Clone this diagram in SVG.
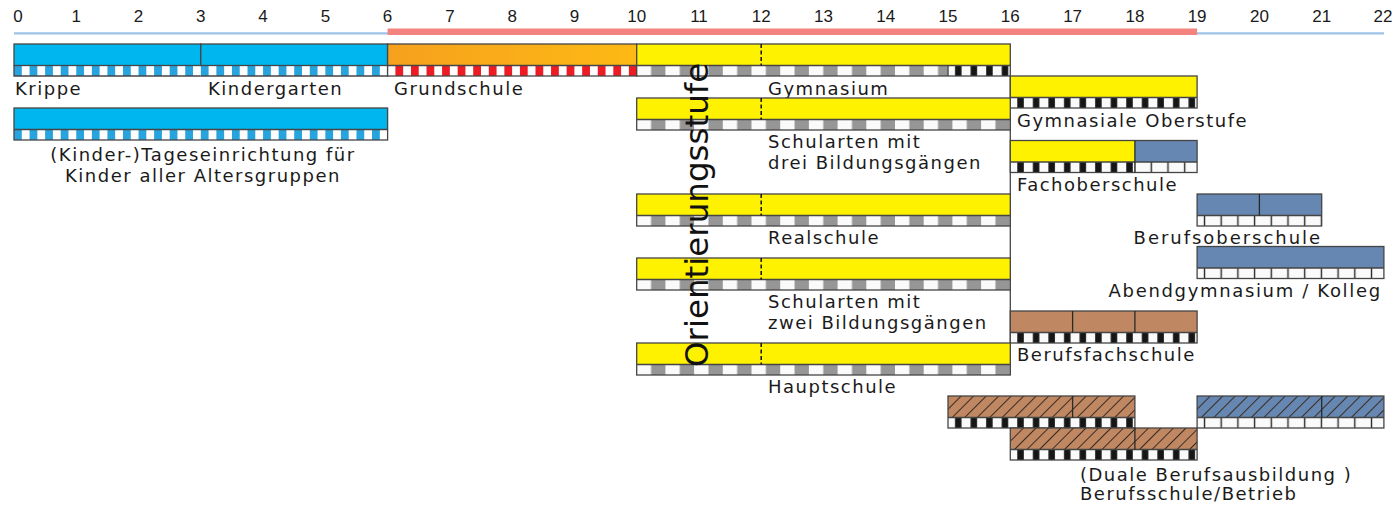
<svg xmlns="http://www.w3.org/2000/svg" width="1396" height="506" viewBox="0 0 1396 506">
<style>
.o{fill:none;stroke:#454545;stroke-width:1.3}
.ln{stroke:#454545;stroke-width:1.3;fill:none}
.dv{stroke:#2a2a2a;stroke-width:1.3}
.dash{stroke:#111;stroke-width:1.5;stroke-dasharray:4 2.5}
.cy{fill:#00B6EE}
.ye{fill:#FFF200}
.sb{fill:#6587B1}
.br{fill:#BF8762}
.lbl{font-family:"DejaVu Sans",Verdana,sans-serif;font-size:18px;letter-spacing:1.5px;fill:#1a1a1a}
.num{font-family:"Liberation Sans",Arial,sans-serif;font-size:17px;fill:#1a1a1a;text-anchor:middle}
.big{font-family:"DejaVu Sans",Verdana,sans-serif;font-size:32.5px;fill:#111}
</style>
<defs>
<linearGradient id="gOrange" x1="0" y1="0" x2="1" y2="0">
<stop offset="0" stop-color="#F6A11E"/>
<stop offset="1" stop-color="#FDB914"/>
</linearGradient>
<pattern id="pBlue" patternUnits="userSpaceOnUse" width="15.567" height="40">
<rect width="15.567" height="40" fill="#fff"/>
<rect width="7.78" height="40" fill="#27A3DD"/>
</pattern>
<pattern id="pRed" patternUnits="userSpaceOnUse" width="15.567" height="40">
<rect width="15.567" height="40" fill="#fff"/>
<rect x="7.78" width="7.78" height="40" fill="#ED1C24"/>
</pattern>
<pattern id="pGrey" patternUnits="userSpaceOnUse" width="28.7" height="40">
<rect width="28.7" height="40" fill="#fafafa"/>
<rect x="14.35" width="14.35" height="40" fill="#969696"/>
</pattern>
<pattern id="pBlack" patternUnits="userSpaceOnUse" width="15.567" height="40">
<rect width="15.567" height="40" fill="#fafafa"/>
<rect x="7" width="6.5" height="40" fill="#161616"/>
</pattern>
<pattern id="pCells" patternUnits="userSpaceOnUse" width="16.7" height="40">
<rect width="16.7" height="40" fill="#fafafa"/>
<rect x="6.7" width="1.4" height="40" fill="#2a2a2a"/>
</pattern>
<pattern id="pHatch" patternUnits="userSpaceOnUse" width="8.84" height="20" patternTransform="rotate(45)">
<rect width="1" height="20" fill="#3a2a20"/>
</pattern>
</defs>

<g id="timeline">
<line x1="14" y1="33.3" x2="1384" y2="33.3" stroke="#9DC3E6" stroke-width="2.2"/>
<line x1="387.6" y1="31.7" x2="1197.1" y2="31.7" stroke="#F4827F" stroke-width="6.5"/>
<text class="num" x="18" y="22">0</text>
<text class="num" x="76.3" y="22">1</text>
<text class="num" x="138.5" y="22">2</text>
<text class="num" x="200.8" y="22">3</text>
<text class="num" x="263.1" y="22">4</text>
<text class="num" x="325.4" y="22">5</text>
<text class="num" x="387.6" y="22">6</text>
<text class="num" x="449.9" y="22">7</text>
<text class="num" x="512.2" y="22">8</text>
<text class="num" x="574.4" y="22">9</text>
<text class="num" x="636.7" y="22">10</text>
<text class="num" x="699" y="22">11</text>
<text class="num" x="761.2" y="22">12</text>
<text class="num" x="823.5" y="22">13</text>
<text class="num" x="885.8" y="22">14</text>
<text class="num" x="948" y="22">15</text>
<text class="num" x="1010.3" y="22">16</text>
<text class="num" x="1072.6" y="22">17</text>
<text class="num" x="1134.9" y="22">18</text>
<text class="num" x="1197.1" y="22">19</text>
<text class="num" x="1259.4" y="22">20</text>
<text class="num" x="1321.7" y="22">21</text>
<text class="num" x="1383" y="22">22</text>
</g>

<g id="frame">
<line class="ln" x1="1010.3" y1="76" x2="1010.3" y2="375"/>
</g>

<g id="krippe" transform="translate(14,44)">
<rect class="cy" width="186.8" height="21.5"/>
<rect y="21.5" width="186.8" height="10.5" fill="url(#pBlue)"/>
<rect class="o" width="186.8" height="21.5"/>
<path class="ln" d="M186.8,32 H0 V21.5"/>
<text class="lbl" x="1" y="51">Krippe</text>
</g>

<g id="kindergarten" transform="translate(200.8,44)">
<rect class="cy" width="186.8" height="21.5"/>
<rect y="21.5" width="186.8" height="10.5" fill="url(#pBlue)"/>
<rect class="o" width="186.8" height="21.5"/>
<path class="ln" d="M0,32 H186.8 V21.5"/>
<text class="lbl" x="7.2" y="51">Kindergarten</text>
</g>

<g id="grundschule" transform="translate(387.6,44)">
<rect width="249.1" height="21.5" fill="url(#gOrange)"/>
<rect y="21.5" width="249.1" height="10.5" fill="url(#pRed)"/>
<rect class="o" width="249.1" height="32"/>
<line class="ln" x1="0" y1="21.5" x2="249.1" y2="21.5"/>
<text class="lbl" x="6.4" y="51">Grundschule</text>
</g>

<g id="gymnasium" transform="translate(636.7,44)">
<rect class="ye" width="373.6" height="21.5"/>
<rect y="21.5" width="311.35" height="10.5" fill="url(#pGrey)"/>
<rect x="311.35" y="21.5" width="62.25" height="10.5" fill="url(#pBlack)"/>
<rect class="o" width="373.6" height="32"/>
<line class="ln" x1="0" y1="21.5" x2="373.6" y2="21.5"/>
<line class="ln" x1="311.35" y1="21.5" x2="311.35" y2="32"/>
<line class="dash" x1="124.5" y1="0" x2="124.5" y2="21.5"/>
<text class="lbl" x="131.3" y="51">Gymnasium</text>
</g>

<g id="kita" transform="translate(14,108)">
<rect class="cy" width="373.6" height="21.5"/>
<rect y="21.5" width="373.6" height="10.5" fill="url(#pBlue)"/>
<rect class="o" width="373.6" height="32"/>
<line class="ln" x1="0" y1="21.5" x2="373.6" y2="21.5"/>
<text class="lbl" x="189" y="53" text-anchor="middle">(Kinder-)Tageseinrichtung für</text>
<text class="lbl" x="189" y="74" text-anchor="middle">Kinder aller Altersgruppen</text>
</g>

<g id="gymnasiale-oberstufe" transform="translate(1010.3,76)">
<rect class="ye" width="186.8" height="21.5"/>
<rect y="21.5" width="186.8" height="10.5" fill="url(#pBlack)"/>
<rect class="o" width="186.8" height="32"/>
<line class="ln" x1="0" y1="21.5" x2="186.8" y2="21.5"/>
<text class="lbl" x="6.7" y="51">Gymnasiale Oberstufe</text>
</g>

<g id="schularten-drei" transform="translate(636.7,98)">
<rect class="ye" width="373.6" height="21.5"/>
<rect y="21.5" width="373.6" height="10.5" fill="url(#pGrey)"/>
<rect class="o" width="373.6" height="32"/>
<line class="ln" x1="0" y1="21.5" x2="373.6" y2="21.5"/>
<line class="dash" x1="124.5" y1="0" x2="124.5" y2="21.5"/>
<text class="lbl" x="131.3" y="50">Schularten mit</text>
<text class="lbl" x="131.3" y="70.5">drei Bildungsgängen</text>
</g>

<g id="fachoberschule" transform="translate(1010.3,140.5)">
<rect class="ye" width="124.6" height="21.5"/>
<rect class="sb" x="124.6" width="62.2" height="21.5"/>
<rect y="21.5" width="124.6" height="10.5" fill="url(#pBlack)"/>
<rect x="124.6" y="21.5" width="62.2" height="10.5" fill="url(#pCells)"/>
<rect class="o" width="186.8" height="32"/>
<line class="ln" x1="0" y1="21.5" x2="186.8" y2="21.5"/>
<line class="dv" x1="124.6" y1="0" x2="124.6" y2="32"/>
<text class="lbl" x="6.7" y="50">Fachoberschule</text>
</g>

<g id="realschule" transform="translate(636.7,194)">
<rect class="ye" width="373.6" height="21.5"/>
<rect y="21.5" width="373.6" height="10.5" fill="url(#pGrey)"/>
<rect class="o" width="373.6" height="32"/>
<line class="ln" x1="0" y1="21.5" x2="373.6" y2="21.5"/>
<line class="dash" x1="124.5" y1="0" x2="124.5" y2="21.5"/>
<text class="lbl" x="131.3" y="49.5">Realschule</text>
</g>

<g id="berufsoberschule" transform="translate(1197.1,194)">
<rect class="sb" width="124.6" height="21.5"/>
<rect y="21.5" width="124.6" height="10.5" fill="url(#pCells)"/>
<rect class="o" width="124.6" height="32"/>
<line class="ln" x1="0" y1="21.5" x2="124.6" y2="21.5"/>
<line class="dv" x1="62.3" y1="0" x2="62.3" y2="21.5"/>
<text class="lbl" x="-63.5" y="49.5" textLength="188" lengthAdjust="spacing">Berufsoberschule</text>
</g>

<g id="abendgymnasium-kolleg" transform="translate(1197.1,246.5)">
<rect class="sb" width="186.8" height="21.5"/>
<rect y="21.5" width="186.8" height="10.5" fill="url(#pCells)"/>
<rect class="o" width="186.8" height="32"/>
<line class="ln" x1="0" y1="21.5" x2="186.8" y2="21.5"/>
<text class="lbl" x="-88.5" y="50.5" textLength="273" lengthAdjust="spacing">Abendgymnasium / Kolleg</text>
</g>

<g id="schularten-zwei" transform="translate(636.7,258)">
<rect class="ye" width="373.6" height="21.5"/>
<rect y="21.5" width="373.6" height="10.5" fill="url(#pGrey)"/>
<rect class="o" width="373.6" height="32"/>
<line class="ln" x1="0" y1="21.5" x2="373.6" y2="21.5"/>
<line class="dash" x1="124.5" y1="0" x2="124.5" y2="21.5"/>
<text class="lbl" x="131.3" y="50">Schularten mit</text>
<text class="lbl" x="131.3" y="71">zwei Bildungsgängen</text>
</g>

<g id="berufsfachschule" transform="translate(1010.3,311)">
<rect class="br" width="186.8" height="21.5"/>
<rect y="21.5" width="186.8" height="10.5" fill="url(#pBlack)"/>
<rect class="o" width="186.8" height="32"/>
<line class="ln" x1="0" y1="21.5" x2="186.8" y2="21.5"/>
<line class="dv" x1="62.3" y1="0" x2="62.3" y2="21.5"/>
<line class="dv" x1="124.6" y1="0" x2="124.6" y2="21.5"/>
<text class="lbl" x="6.7" y="49.5">Berufsfachschule</text>
</g>

<g id="hauptschule" transform="translate(636.7,343)">
<rect class="ye" width="373.6" height="21.5"/>
<rect y="21.5" width="373.6" height="10.5" fill="url(#pGrey)"/>
<rect class="o" width="373.6" height="32"/>
<line class="ln" x1="0" y1="21.5" x2="373.6" y2="21.5"/>
<line class="dash" x1="124.5" y1="0" x2="124.5" y2="21.5"/>
<text class="lbl" x="131.3" y="50">Hauptschule</text>
</g>

<g id="duale-ausbildung-1" transform="translate(948,396)">
<rect class="br" width="186.9" height="21.5"/>
<rect width="186.9" height="21.5" fill="url(#pHatch)"/>
<rect y="21.5" width="186.9" height="10.5" fill="url(#pBlack)"/>
<rect class="o" width="186.9" height="32"/>
<line class="ln" x1="0" y1="21.5" x2="186.9" y2="21.5"/>
<line class="dv" x1="124.6" y1="0" x2="124.6" y2="21.5"/>
</g>

<g id="duale-ausbildung-blau" transform="translate(1197.1,396)">
<rect class="sb" width="186.8" height="21.5"/>
<rect width="186.8" height="21.5" fill="url(#pHatch)"/>
<rect y="21.5" width="186.8" height="10.5" fill="url(#pCells)"/>
<rect class="o" width="186.8" height="32"/>
<line class="ln" x1="0" y1="21.5" x2="186.8" y2="21.5"/>
<line class="dv" x1="124.6" y1="0" x2="124.6" y2="21.5"/>
</g>

<g id="duale-ausbildung-2" transform="translate(1010.3,428)">
<rect class="br" width="186.8" height="21.5"/>
<rect width="186.8" height="21.5" fill="url(#pHatch)"/>
<rect y="21.5" width="186.8" height="10.5" fill="url(#pBlack)"/>
<rect class="o" width="186.8" height="32"/>
<line class="ln" x1="0" y1="21.5" x2="186.8" y2="21.5"/>
<line class="dv" x1="124.6" y1="0" x2="124.6" y2="21.5"/>
<text class="lbl" x="69.7" y="53">(Duale Berufsausbildung )</text>
<text class="lbl" x="69.7" y="72">Berufsschule/Betrieb</text>
</g>

<g id="orientierungsstufe">
<text class="big" transform="translate(708,367) rotate(-90)">Orientierungsstufe</text>
</g>
</svg>
